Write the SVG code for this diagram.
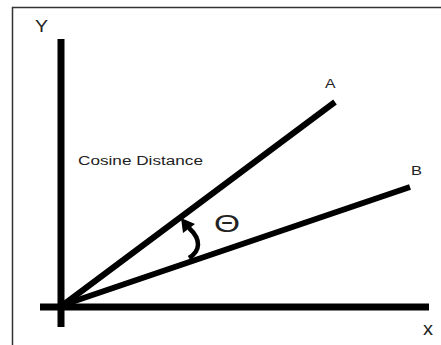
<svg xmlns="http://www.w3.org/2000/svg" width="441" height="345" viewBox="0 0 441 345">
  <style>
    .lbl { font-family: "Liberation Sans", Arial, sans-serif; fill: #222; }
    .axis { stroke: #000; stroke-width: 7; fill: none; }
    .vec { stroke: #000; stroke-width: 6; fill: none; }
  </style>
  <rect x="0" y="0" width="441" height="345" fill="#fff"/>
  <path d="M12.5 345 V7.5 H441" fill="none" stroke="#333" stroke-width="1.5"/>
  <g id="axes">
    <line class="axis" x1="61" y1="39" x2="61" y2="327"/>
    <line class="axis" x1="40" y1="307" x2="429" y2="307" stroke-width="6"/>
    <text class="lbl" x="35" y="32" font-size="16" textLength="13" lengthAdjust="spacingAndGlyphs">Y</text>
    <text class="lbl" x="423" y="335" font-size="18" textLength="10" lengthAdjust="spacingAndGlyphs">x</text>
  </g>
  <g id="connectors">
    <line class="vec" x1="63" y1="305" x2="335" y2="102"/>
    <line class="vec" x1="63" y1="305" x2="410" y2="187"/>
  </g>
  <g id="labelA"><text class="lbl" x="325" y="88" font-size="12.5" textLength="10.5" lengthAdjust="spacingAndGlyphs">A</text></g>
  <g id="labelB"><text class="lbl" x="411" y="175" font-size="13.5" textLength="11" lengthAdjust="spacingAndGlyphs">B</text></g>
  <g id="title"><text class="lbl" x="78" y="165" font-size="12.5" textLength="125" lengthAdjust="spacingAndGlyphs" fill="#333">Cosine Distance</text></g>
  <g id="angle">
    <path d="M189 258 C200 251, 202 240, 189 228" fill="none" stroke="#000" stroke-width="4.5"/>
    <polygon points="181,218 195,224 183,233" fill="#000"/>
    <text class="lbl" x="214" y="232" font-size="23" textLength="26" lengthAdjust="spacingAndGlyphs">Θ</text>
  </g>
</svg>
